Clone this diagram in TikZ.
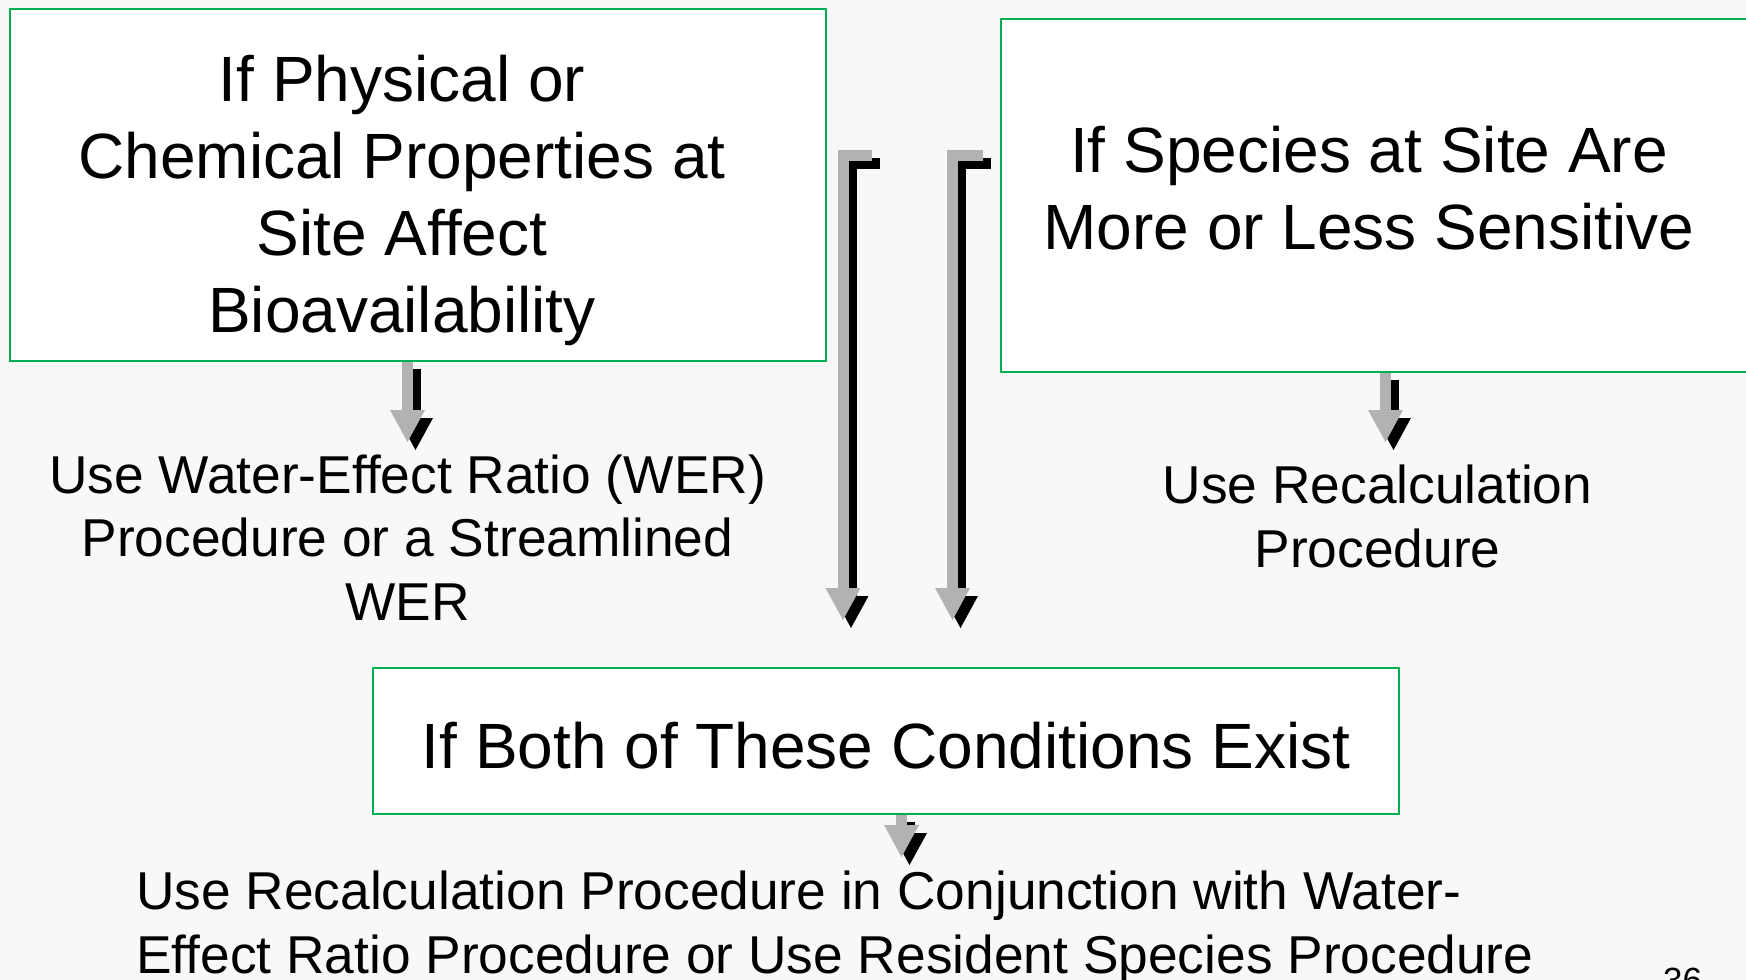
\documentclass[tikz,border=0pt]{standalone}
\usepackage{fontspec}
\setmainfont{Liberation Sans}
\usetikzlibrary{arrows.meta}
\definecolor{pagebg}{HTML}{F8F8F8}
\definecolor{boxgreen}{HTML}{00B050}
\definecolor{arrowgray}{HTML}{B2B2B2}
\tikzset{
  box/.style={draw=boxgreen, line width=2.8pt, fill=white, rectangle, inner sep=0pt},
  bigtext/.style={font=\fontsize{64pt}{77pt}\selectfont, align=center, inner sep=0pt},
  labeltext/.style={font=\fontsize{53.3pt}{63.5pt}\selectfont, align=center, inner sep=0pt},
  flow/.style={draw=arrowgray, line width=11pt, line cap=butt, line join=miter,
    -{Triangle[width=35pt,length=32pt,line width=0pt]}},
  flowshadow/.style={flow, draw=black, transform canvas={xshift=8pt,yshift=-8pt}},
}
\begin{document}
\begin{tikzpicture}[x=1pt,y=-1pt]
\useasboundingbox (0,0) rectangle (1746,980);
\clip (0,0) rectangle (1746,980);
\fill[pagebg] (0,0) rectangle (1746,980);

% arrow end points
\coordinate (t1) at (872,155);
\coordinate (h1) at (843,620);
\coordinate (t2) at (983,155);
\coordinate (h2) at (952.5,620);
\coordinate (s1) at (407.5,361);
\coordinate (e1) at (407.5,442);
\coordinate (s2) at (1385.5,372);
\coordinate (e2) at (1385.5,442);
\coordinate (s3) at (901.5,814);
\coordinate (e3) at (901.5,857);

% shadows first, then the grey arrows
\foreach \a/\b in {s1/e1,s2/e2,s3/e3}{
  \draw[flowshadow] (\a) -- (\b);
}
\draw[flowshadow] (t1) -| (h1);
\draw[flowshadow] (t2) -| (h2);
\foreach \a/\b in {s1/e1,s2/e2,s3/e3}{
  \draw[flow] (\a) -- (\b);
}
\draw[flow] (t1) -| (h1);
\draw[flow] (t2) -| (h2);

% condition boxes
\node[box, minimum width=816pt, minimum height=352pt] (physbox) at (418,185) {};
\node[box, minimum width=760pt, minimum height=353pt] (specbox) at (1381,195.5) {};
\node[box, minimum width=1026pt, minimum height=146pt] (bothbox) at (886,741) {};

% multi-line texts are placed by the baseline of their last line
\node[bigtext, anchor=base] (phystext) at (402,332)
  {If Physical or\\Chemical Properties at\\Site Affect\\Bioavailability};
\node[bigtext, anchor=base] (spectext) at (1369,249)
  {If Species at Site Are\\More or Less Sensitive};
\node[bigtext, anchor=base] (bothtext) at (886,768)
  {If Both of These Conditions Exist};

% procedures
\node[labeltext, anchor=base] (werlabel) at (407.5,620)
  {Use Water-Effect Ratio (WER)\\Procedure or a Streamlined\\WER};
\node[labeltext, anchor=base] (recalclabel) at (1377.5,567)
  {Use Recalculation\\Procedure};
\node[labeltext, align=left, anchor=base west] (bothlabel) at (136,973)
  {Use Recalculation Procedure in Conjunction with Water-\\Effect Ratio Procedure or Use Resident Species Procedure};

% slide number
\node[font=\fontsize{35pt}{42pt}\selectfont, inner sep=0pt, anchor=base west] (pagenum) at (1663,992) {36};
\end{tikzpicture}
\end{document}
